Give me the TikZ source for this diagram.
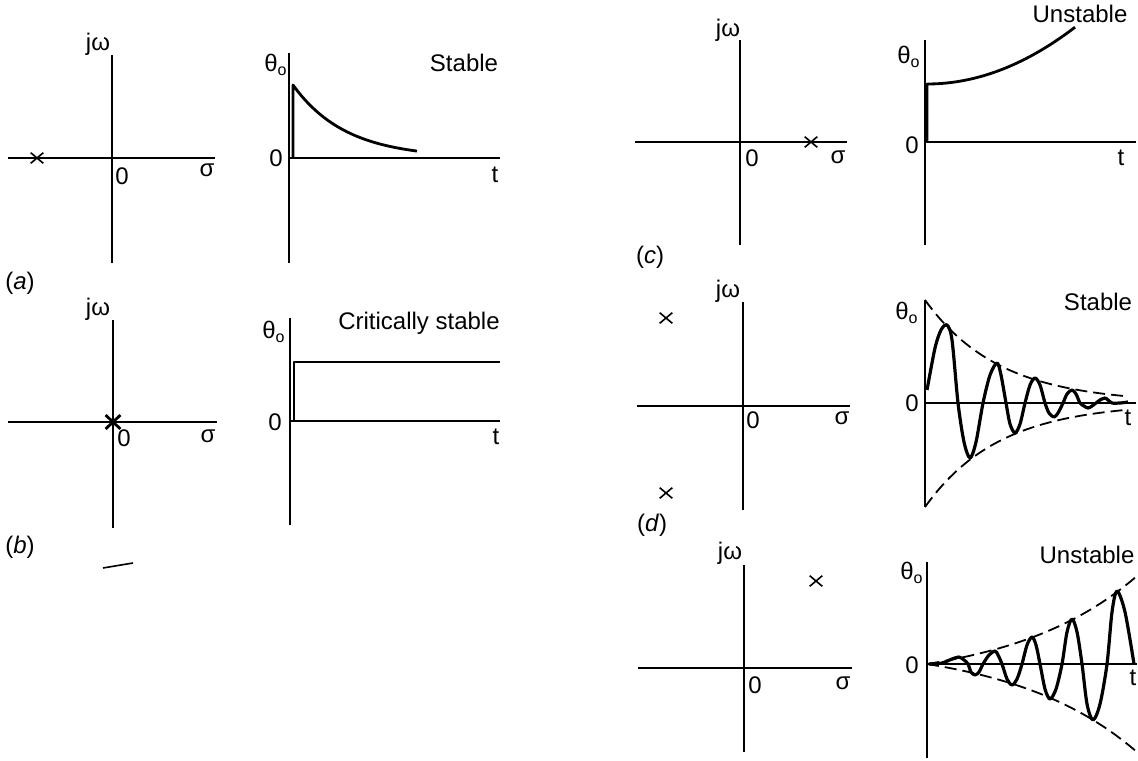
\documentclass[tikz,border=0pt]{standalone}
\usepackage{fontspec}
\setmainfont{Liberation Sans}
\usetikzlibrary{shapes.misc}

\begin{document}
\begin{tikzpicture}[x=0.5pt, y=-0.5pt, font=\fontsize{12}{14}\selectfont,
    axis/.style={line width=0.9pt},
    resp/.style={line width=1.4pt, line join=round},
    wave/.style={line width=1.6pt, line join=round},
    env/.style={line width=0.9pt, dash pattern=on 6pt off 3pt},
    pole/.style={cross out, draw, minimum width=5.5pt, minimum height=4.5pt,
      inner sep=0pt, line width=0.8pt}]
  \useasboundingbox (0,0) rectangle (1138,760);

  % (a) real pole on the left
  \draw[axis] (112,55) -- (112,263);
  \draw[axis] (8,158) -- (215,158);
  \node[pole] (Pa) at (37,158) {};
  \node (JWa) at (98,44) {jω};
  \node (Za) at (122,176) {0};
  \node (Sa) at (207,170) {σ};
  \draw[axis] (289,53) -- (289,263);
  \draw[axis] (289,158) -- (500,158);
  \draw[resp] (293,158) -- (293,85)
    -- plot[domain=0:124, samples=40, smooth] ({293+\x}, {158-73*exp(-0.019*\x)});
  \node (THa) at (276,65) {θ\textsubscript{o}};
  \node (ZTa) at (276,158) {0};
  \node (Ta) at (495,175) {t};
  \node (STa) at (464,63) {Stable};
  \node (La) at (20,283) {(\textit{a})};

  % (b) pole at the origin
  \draw[axis] (113,320) -- (113,528);
  \draw[axis] (8,422) -- (217,422);
  \node[pole, line width=1.4pt, minimum width=6pt, minimum height=5.5pt] (Pb) at (113,422) {};
  \node (JWb) at (98,309) {jω};
  \node (Zb) at (124,438) {0};
  \node (Sb) at (208,436) {σ};
  \draw[axis] (290,318) -- (290,525);
  \draw[axis] (290,421) -- (500,421);
  \draw[resp] (294,421) -- (294,362) -- (500,362);
  \node (THb) at (274,332) {θ\textsubscript{o}};
  \node (ZTb) at (275,422) {0};
  \node (Tb) at (496,437) {t};
  \node (STb) at (419,323) {Critically stable};
  \node (Lb) at (20,547) {(\textit{b})};
  \draw[line width=0.8pt] (103,568) -- (133,563);

  % (c) real pole on the right
  \draw[axis] (740,40) -- (740,245);
  \draw[axis] (635,142) -- (847,142);
  \node[pole] (Pc) at (811,142) {};
  \node (JWc) at (728,30) {jω};
  \node (Zc) at (752,158) {0};
  \node (Sc) at (838,157) {σ};
  \draw[axis] (925,40) -- (925,245);
  \draw[axis] (925,142) -- (1136,142);
  \draw[resp] (927,142) -- (927,84)
    -- plot[domain=0:148, samples=40, smooth] ({927+\x}, {84-0.0026*\x*\x});
  \node (THc) at (909,57) {θ\textsubscript{o}};
  \node (ZTc) at (912,145) {0};
  \node (Tc) at (1121,158) {t};
  \node (STc) at (1080,14) {Unstable};
  \node (Lc) at (650,257) {(\textit{c})};

  % (d) complex pair on the left
  \draw[axis] (743,302) -- (743,510);
  \draw[axis] (637,406) -- (850,406);
  \node[pole] (Pd1) at (666,318) {};
  \node[pole] (Pd2) at (666,493) {};
  \node (JWd) at (728,291) {jω};
  \node (Zd) at (753,420) {0};
  \node (Sd) at (842,418) {σ};
  \draw[axis] (925,300) -- (925,507);
  \draw[axis] (925,403) -- (1136,403);
  \draw[env] plot[domain=0:200, samples=50] ({925+\x}, {403-103*exp(-0.0135*\x)});
  \draw[env] plot[domain=0:200, samples=50] ({925+\x}, {403+104*exp(-0.0135*\x)});
  \draw[wave] plot[smooth] coordinates {(927,390) (935,348) (941,330) (947,325)
    (952,340) (958,403) (964,442) (970,458) (976,442) (983,403) (990,375)
    (997,363) (1001,375) (1006,403) (1010,424) (1015,433) (1020,424) (1025,403)
    (1030,385) (1035,378) (1040,385) (1045,403) (1049,413) (1054,417) (1058,413)
    (1063,403) (1067,394) (1072,390) (1076,394) (1080,403) (1084,406) (1088,408)
    (1092,406) (1096,403) (1100,400) (1105,398) (1108,400) (1112,403) (1120,403)
    (1128,402)};
  \node (THd) at (907,313) {θ\textsubscript{o}};
  \node (ZTd) at (912,403) {0};
  \node (Td) at (1128,418) {t};
  \node (STd) at (1098,302) {Stable};
  \node (Ld) at (652,525) {(\textit{d})};

  % (e) complex pair on the right
  \draw[axis] (744,565) -- (744,752);
  \draw[axis] (638,668) -- (852,668);
  \node[pole] (Pe) at (816,581) {};
  \node (JWe) at (730,553) {jω};
  \node (Ze) at (755,685) {0};
  \node (Se) at (843,683) {σ};
  \draw[axis] (927,562) -- (927,758);
  \draw[axis] (927,664) -- (1137,664);
  \draw[env] plot[domain=0:210, samples=50] ({927+\x}, {664-20.2*(exp(0.008*\x)-1)});
  \draw[env] plot[domain=0:210, samples=50] ({927+\x}, {664+20.2*(exp(0.008*\x)-1)});
  \draw[wave] plot[smooth] coordinates {(929,664) (942,663) (952,659) (959,657)
    (964,660) (968,664) (971,672) (975,675) (979,672) (983,664) (989,655)
    (995,651) (998,655) (1002,664) (1007,679) (1012,685) (1017,679) (1022,664)
    (1027,645) (1032,637) (1036,645) (1040,664) (1045,689) (1050,699) (1056,689)
    (1062,664) (1067,632) (1072,619) (1077,632) (1082,664) (1087,704) (1093,720)
    (1100,704) (1107,664) (1112,612) (1117,591) (1125,612) (1134,664)};
  \node (THe) at (912,573) {θ\textsubscript{o}};
  \node (ZTe) at (912,665) {0};
  \node (Te) at (1133,678) {t};
  \node (STe) at (1087,555) {Unstable};
\end{tikzpicture}
\end{document}
